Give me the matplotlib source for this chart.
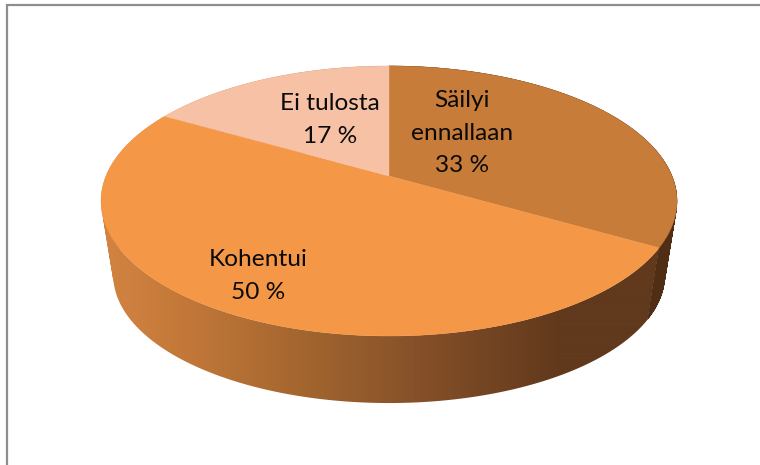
# -*- coding: utf-8 -*-
"""
3D-tyylinen piirakka: pikselikoordinaatit, oma perspektiiviprojektio
"""
import matplotlib
matplotlib.use('Agg')
import matplotlib.pyplot as plt
from matplotlib.patches import Polygon, PathPatch
from matplotlib.path import Path
from matplotlib.colors import LinearSegmentedColormap
import numpy as np

labels = ['Säilyi\nennallaan', 'Kohentui', 'Ei tulosta']
counts = [2, 3, 1]
percents = [33, 50, 17]
top_colors = ['#c87c3a', '#f49746', '#f6c1a4']
label_pos = [(462, 133), (258, 276), (330, 120)]

CX = 389
K = 0.185
TOP = dict(y0=176.0, a=283.0, b=130.4)
BOTTOM = dict(y0=251.5, a=271.0, b=123.5)


def project(theta, p):
    # kulma klo 12:sta myötäpäivään
    u, v = np.sin(theta), np.cos(theta)
    d = 1 + K * v
    return CX + p['a'] * u / d, p['y0'] - p['b'] * v / d


def wall_path(t):
    # sivupinta nelikulmioista, kaikki samaan kiertosuuntaan
    tx, ty = project(t, TOP)
    bx, by = project(t, BOTTOM)
    quads = []
    for j in range(len(t) - 1):
        q = np.array([(tx[j], ty[j]), (tx[j + 1], ty[j + 1]),
                      (bx[j + 1], by[j + 1]), (bx[j], by[j])])
        x, y = q[:, 0], q[:, 1]
        if np.dot(x, np.roll(y, -1)) - np.dot(y, np.roll(x, -1)) < 0:
            q = q[::-1]
        quads.append(Path(np.vstack([q, q[0]]), closed=True))
    return Path.make_compound_path(*quads)


fig = plt.figure(figsize=(7.6, 4.65), dpi=100)
ax = fig.add_axes([0, 0, 1, 1])

# sivupinnan liukuväri vasemmalta oikealle
side_cmap = LinearSegmentedColormap.from_list('side', [
    (0.0, '#d28442'), (69 / 659, '#c67a3a'), (199 / 659, '#a4662f'),
    (319 / 659, '#855029'), (459 / 659, '#61391c'), (1.0, '#61391c')])
gradient = np.linspace(0, 1, 659).reshape(1, -1)

edges = np.cumsum([0] + counts) / sum(counts) * 2 * np.pi

# sivupinnat: takimmaiset ensin
for i in [2, 0, 1]:
    t = np.linspace(edges[i], edges[i + 1], 300)
    path = wall_path(t)
    if i == 0:
        ax.add_patch(PathPatch(path, facecolor='#4f2e15', edgecolor='#4f2e15', lw=0.3))
    else:
        patch = PathPatch(path, facecolor='none', edgecolor='none')
        ax.add_patch(patch)
        im = ax.imshow(gradient, cmap=side_cmap, extent=(101, 760, 465, 0), aspect='auto',
                       interpolation='bilinear', vmin=0, vmax=1)
        im.set_clip_path(patch)

# yläpinta
center = (CX, TOP['y0'])
for i in range(len(counts)):
    t = np.linspace(edges[i], edges[i + 1], 300)
    xs, ys = project(t, TOP)
    pts = [center] + list(zip(xs, ys))
    ax.add_patch(Polygon(pts, closed=True, facecolor=top_colors[i],
                         edgecolor=top_colors[i], lw=0.3))

# kehys: vain vasen ja ylä näkyvät
ax.plot([7, 7, 760], [465, 5, 5], color='#8e8e8e', lw=1.6, solid_joinstyle='miter')

for name, val, (x, y) in zip(labels, percents, label_pos):
    ax.text(x, y, f'{name}\n{val} %', ha='center', va='center', fontsize=17.6,
            family='Lato', color='#0a0a0a', linespacing=1.7)

ax.set_xlim(0, 760)
ax.set_ylim(465, 0)
ax.axis('off')

fig.savefig('out.png', dpi=100)
plt.close(fig)
